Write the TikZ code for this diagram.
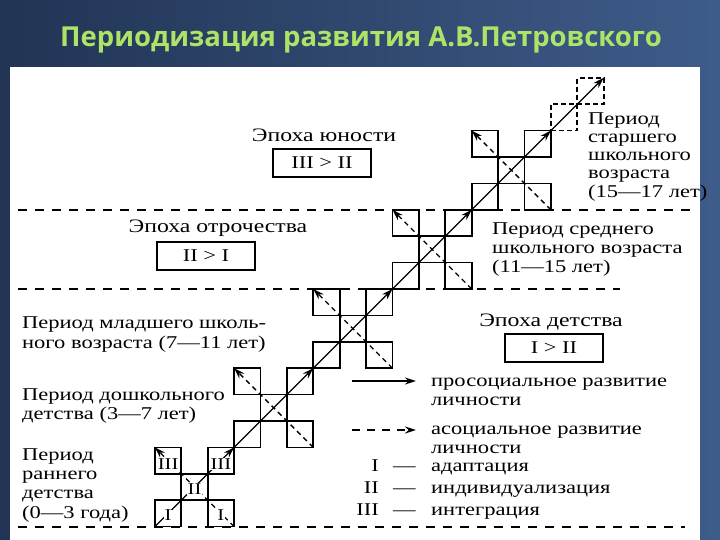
\documentclass[tikz,border=0pt]{standalone}
\usepackage{fontspec}
\setmainfont{Liberation Serif}[FakeStretch=1.25]
\newfontfamily\titlefont{Open Sans}
\usetikzlibrary{positioning, arrows.meta}

\definecolor{bgdark}{RGB}{34,52,84}
\definecolor{bglight}{RGB}{62,92,138}
\definecolor{titlegreen}{RGB}{172,228,104}

\tikzstyle{cell} = [rectangle, draw=black, line width=1.7pt, minimum size=26.4pt, inner sep=0pt, outer sep=0pt]
\tikzstyle{future} = [cell, dash pattern=on 5pt off 3pt]
\tikzstyle{epochbox} = [rectangle, draw=black, line width=1.7pt, minimum width=98pt, minimum height=28pt, font=\fontsize{18}{20}\selectfont]
\tikzstyle{txt} = [font=\fontsize{18}{19}\selectfont, align=left, inner sep=0pt]
\tikzstyle{numeral} = [fill=white, inner sep=0.5pt, font=\fontsize{16.5}{16.5}\selectfont]
\tikzstyle{pro} = [line width=1.3pt, ->, >={Stealth[length=11pt, width=7pt]}]
\tikzstyle{aso} = [pro, dash pattern=on 5pt off 4pt]
\tikzstyle{boundary} = [line width=1.1pt, dash pattern=on 9pt off 8pt]

\begin{document}
\begin{tikzpicture}[x=1pt, y=-1pt]
\useasboundingbox (0,0) rectangle (720,540);
\shade[left color=bgdark, right color=bglight] (0,0) rectangle (720,540);
\fill[white] (10,67) rectangle (700,540);
\node (title) [font=\titlefont\bfseries\fontsize{27.5}{30}\selectfont, text=titlegreen] at (361,40) {Периодизация развития А.В.Петровского};

% epoch boundaries
\draw[boundary] (18,210) -- (690,210);
\draw[boundary] (18,289) -- (620,289);
\draw[boundary] (18,527) -- (685,527);

% five periods along the diagonal
\foreach \k in {1,...,5} {
  \pgfmathsetmacro{\cx}{194.5+79.2*(\k-1)}
  \pgfmathsetmacro{\cy}{487-79.2*(\k-1)}
  \node (c\k) [cell] at (\cx,\cy) {};
  \node (tl\k) [cell, above left=0pt of c\k] {};
  \node (tr\k) [cell, above right=0pt of c\k] {};
  \node (bl\k) [cell, below left=0pt of c\k] {};
  \node (br\k) [cell, below right=0pt of c\k] {};
  \draw[pro] (bl\k.south west) -- (tr\k.north east);
  \draw[aso] (br\k.south east) -- (tl\k.north west);
}
\node (e1) [future, above right=0pt of tr5] {};
\node (e2) [future, above right=0pt of e1] {};
\draw[pro] (tr5.north east) -- (e2.north east);

% early childhood squares
\node (nbl) [numeral] at ([yshift=-2pt]bl1.center) {I};
\node (nbr) [numeral] at ([yshift=-2pt]br1.center) {I};
\node (nc) [numeral] at ([yshift=-2pt]c1.center) {II};
\node (ntl) [numeral] at ([yshift=-3pt]tl1.center) {III};
\node (ntr) [numeral] at ([yshift=-3pt]tr1.center) {III};

% epochs
\node (youth) [txt, anchor=base, font=\fontsize{19}{20}\selectfont] at (324,142) {Эпоха юности};
\node (youthbox) [epochbox] at (322,163) {III > II};
\node (teen) [txt, anchor=base, font=\fontsize{19}{20}\selectfont] at (218,233) {Эпоха отрочества};
\node (teenbox) [epochbox] at (206,256) {II > I};
\node (child) [txt, anchor=base, font=\fontsize{19}{20}\selectfont] at (551,326) {Эпоха детства};
\node (childbox) [epochbox] at (554,348) {I > II};

% periods (base = last line)
\node (senior) [txt, anchor=base west, font=\fontsize{18}{18.2}\selectfont] at (588,197) {Период\\старшего\\школьного\\возраста\\(15—17 лет)};
\node (middle) [txt, anchor=base west] at (492,272) {Период среднего\\школьного возраста\\(11—15 лет)};
\node (junior) [txt, anchor=base west, font=\fontsize{18}{20}\selectfont] at (22,348) {Период младшего школь-\\ного возраста (7—11 лет)};
\node (preschool) [txt, anchor=base west] at (22,419) {Период дошкольного\\детства (3—7 лет)};
\node (early) [txt, anchor=base west, font=\fontsize{18}{19.3}\selectfont] at (22,518) {Период\\раннего\\детства\\(0—3 года)};

% legend
\coordinate (proa) at (352,381);
\coordinate (prob) at (416,381);
\draw[pro, line width=1.6pt] (proa) -- (prob);
\node (protext) [txt, anchor=base west] at (431,405) {просоциальное развитие\\личности};
\coordinate (asoa) at (352,430);
\coordinate (asob) at (416,430);
\draw[aso, line width=1.6pt, dash pattern=on 8pt off 7pt] (asoa) -- (asob);
\node (asotext) [txt, anchor=base west] at (431,453) {асоциальное развитие\\личности};
\node (keynum) [txt, anchor=base east, align=right, font=\fontsize{18}{22}\selectfont] at (379,515) {I\\II\\III};
\node (keydash) [txt, anchor=base west, font=\fontsize{18}{22}\selectfont] at (393,515) {—\\—\\—};
\node (keyword) [txt, anchor=base west, font=\fontsize{18}{22}\selectfont] at (431,515) {адаптация\\индивидуализация\\интеграция};
\end{tikzpicture}
\end{document}
